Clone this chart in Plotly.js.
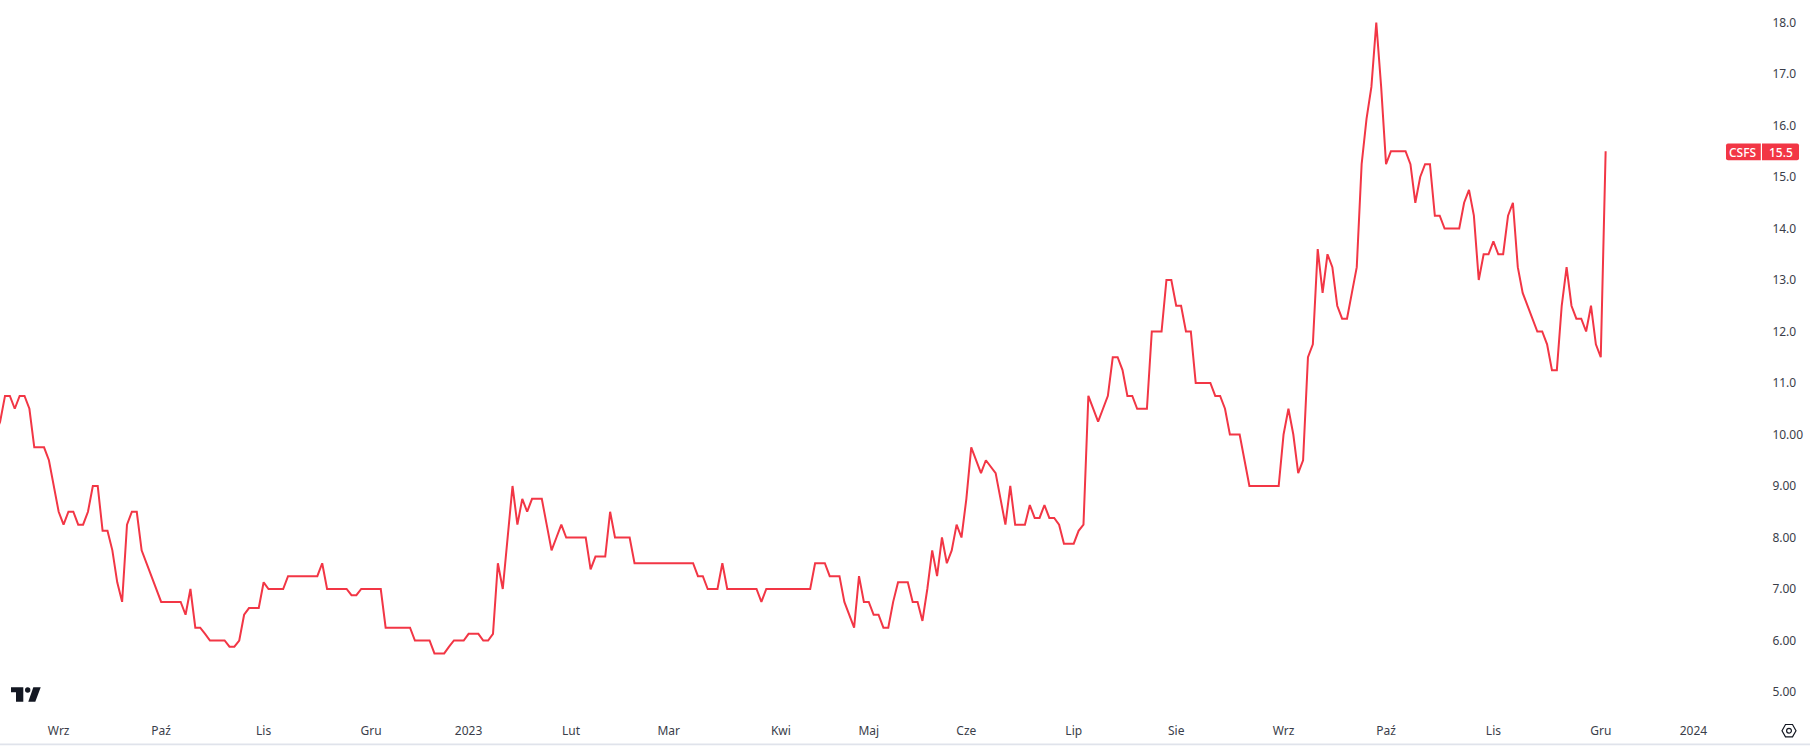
<!DOCTYPE html>
<html>
<head>
<meta charset="utf-8">
<script src="https://cdn.plot.ly/plotly-3.0.1.min.js"></script>
<style>html,body{margin:0;padding:0;background:#fff;overflow:hidden}#c{width:1810px;height:747px}</style>
</head>
<body>
<div id="c"></div>
<script>
const symbol = "CSFS";
const lastValue = "15.5";
const closes = [
10,10.25,
10.75,10.75,10.5,10.75,10.75,10.5,9.75,9.75,9.75,9.5,
9,8.5,8.25,8.5,8.5,8.25,8.25,8.5,9,9,
8.13,8.13,7.75,7.13,6.75,8.25,8.5,8.5,7.75,7.5,
7.25,7,6.75,6.75,6.75,6.75,6.75,6.5,7,6.25,
6.25,6.13,6,6,6,6,5.88,5.88,6,6.5,
6.63,6.63,6.63,7.13,7,7,7,7,7.25,7.25,
7.25,7.25,7.25,7.25,7.25,7.5,7,7,7,7,
7,6.88,6.88,7,7,7,7,7,6.25,6.25,
6.25,6.25,6.25,6.25,6,6,6,6,5.75,5.75,
5.75,5.88,6,6,6,6.13,6.13,6.13,6,6,
6.13,7.5,7,8,9,8.25,8.75,8.5,8.75,8.75,
8.75,8.25,7.75,8,8.25,8,8,8,8,8,
7.38,7.63,7.63,7.63,8.5,8,8,8,8,7.5,
7.5,7.5,7.5,7.5,7.5,7.5,7.5,7.5,7.5,7.5,
7.5,7.5,7.25,7.25,7,7,7,7.5,7,7,
7,7,7,7,7,6.75,7,7,7,7,
7,7,7,7,7,7,7.5,7.5,7.5,7.25,
7.25,7.25,6.75,6.5,6.25,7.25,6.75,6.75,6.5,6.5,
6.25,6.25,6.75,7.13,7.13,7.13,6.75,6.75,6.38,7,
7.75,7.25,8,7.5,7.75,8.25,8,8.75,9.75,9.5,
9.25,9.5,9.38,9.25,8.75,8.25,9,8.25,8.25,8.25,
8.63,8.38,8.38,8.63,8.38,8.38,8.25,7.88,7.88,7.88,
8.13,8.25,10.75,10.5,10.25,10.5,10.75,11.5,11.5,11.25,
10.75,10.75,10.5,10.5,10.5,12,12,12,13,13,
12.5,12.5,12,12,11,11,11,11,10.75,10.75,
10.5,10,10,10,9.5,9,9,9,9,9,
9,9,10,10.5,10,9.25,9.5,11.5,11.75,13.6,
12.75,13.5,13.25,12.5,12.25,12.25,12.75,13.25,15.25,16.13,
16.75,18,16.75,15.25,15.5,15.5,15.5,15.5,15.25,14.5,
15,15.25,15.25,14.25,14.25,14,14,14,14,14.5,
14.75,14.25,13,13.5,13.5,13.75,13.5,13.5,14.25,14.5,
13.25,12.75,12.5,12.25,12,12,11.75,11.25,11.25,12.5,
13.25,12.5,12.25,12.25,12,12.5,11.75,11.5,15.5
];
const monthBars = [13,34,55,77,97,118,138,161,179,199,221,242,264,285,307,329,348];
const monthLabels = ["Wrz","Paź","Lis","Gru","2023","Lut","Mar","Kwi","Maj","Cze","Lip","Sie","Wrz","Paź","Lis","Gru","2024"];
const priceTicks = [18,17,16,15,14,13,12,11,10,9,8,7,6,5];
const priceLabels = ["18.0","17.0","16.0","15.0","14.0","13.0","12.0","11.0","10.00","9.00","8.00","7.00","6.00","5.00"];

const bars = closes.map((_, i) => i);
const RED = "#f23645", INK = "#131722";
const FONT = "'Noto Sans', sans-serif";

const W = 1810, H = 747, R = 43, B = 35, BAR = 4.88;
const plotW = W - R, bottomPx = H - B;
const left = 0.975;
const py = y => bottomPx - y;   // pixel row -> offset above plot bottom

function pxShape(o){
  return Object.assign({xref:"paper",yref:"paper",xanchor:0,yanchor:0,xsizemode:"pixel",ysizemode:"pixel"},o);
}
function badgePath(x0,x1,rl,rr){
  const t = py(143.4), b = py(160.2);
  return `M${x0+rl},${t} L${x1-rr},${t} Q${x1},${t} ${x1},${t-rr} L${x1},${b+rr} Q${x1},${b} ${x1-rr},${b} L${x0+rl},${b} Q${x0},${b} ${x0},${b+rl} L${x0},${t-rl} Q${x0},${t} ${x0+rl},${t} Z`;
}
const shapes = [
  pxShape({type:"rect",x0:0,x1:W,y0:py(743.6),y1:py(745.2),fillcolor:"#e0e3eb",line:{width:0}}),
  pxShape({type:"path",path:badgePath(1726,1760.8,2,0),fillcolor:RED,line:{width:0}}),
  pxShape({type:"path",path:badgePath(1762,1799,0,2),fillcolor:RED,line:{width:0}}),
  pxShape({type:"path",path:`M11,${py(687.3)} L23.3,${py(687.3)} L23.3,${py(701.7)} L16,${py(701.7)} L16,${py(692.3)} L11,${py(692.3)} Z`,fillcolor:INK,line:{width:0}}),
  pxShape({type:"circle",x0:25,x1:30.4,y0:py(692.7),y1:py(687.3),fillcolor:INK,line:{width:0}}),
  pxShape({type:"path",path:`M33.3,${py(687.3)} L40.7,${py(687.3)} L35.3,${py(701.7)} L28.3,${py(701.7)} Z`,fillcolor:INK,line:{width:0}}),
  pxShape({type:"path",path:`M1782,${py(730.7)} L1785.5,${py(724.5)} L1792.5,${py(724.5)} L1796,${py(730.7)} L1792.5,${py(736.9)} L1785.5,${py(736.9)} Z`,fillcolor:"rgba(0,0,0,0)",line:{color:INK,width:1.2}}),
  pxShape({type:"circle",x0:1786.6,x1:1791.4,y0:py(733.1),y1:py(728.3),fillcolor:"rgba(0,0,0,0)",line:{color:INK,width:1.2}})
];

const badgeFont = {family:FONT,size:12,color:"#fff",weight:500};
const annotations = [
  {text:symbol,xref:"paper",x:1743.4/plotW,xanchor:"center",yref:"y",y:15.47,yanchor:"middle",showarrow:false,font:badgeFont},
  {text:lastValue,xref:"paper",x:1780.5/plotW,xanchor:"center",yref:"y",y:15.47,yanchor:"middle",showarrow:false,font:badgeFont}
];

Plotly.newPlot("c",[{
  type:"scatter",mode:"lines",x:bars,y:closes,
  line:{color:RED,width:2,shape:"linear"},hoverinfo:"skip"
}],{
  width:W,height:H,
  margin:{l:0,r:R,t:0,b:B,pad:0},
  paper_bgcolor:"#fff",plot_bgcolor:"#fff",
  showlegend:false,
  xaxis:{range:[left,left+plotW/BAR],tickmode:"array",tickvals:monthBars,ticktext:monthLabels,tickangle:0,
    showgrid:false,zeroline:false,showline:false,ticks:"outside",ticklen:8,tickcolor:"rgba(0,0,0,0)",
    tickfont:{family:FONT,size:12,color:"#3a3e4a"},fixedrange:true},
  yaxis:{side:"right",range:[18-(bottomPx-22.5)/51.5,18+22.5/51.5],tickmode:"array",tickvals:priceTicks,ticktext:priceLabels,
    showgrid:false,zeroline:false,showline:false,ticks:"outside",ticklen:2,tickcolor:"rgba(0,0,0,0)",
    tickfont:{family:FONT,size:12,color:"#3a3e4a"},fixedrange:true},
  shapes,annotations
},{displayModeBar:false,staticPlot:true});
</script>
</body>
</html>
